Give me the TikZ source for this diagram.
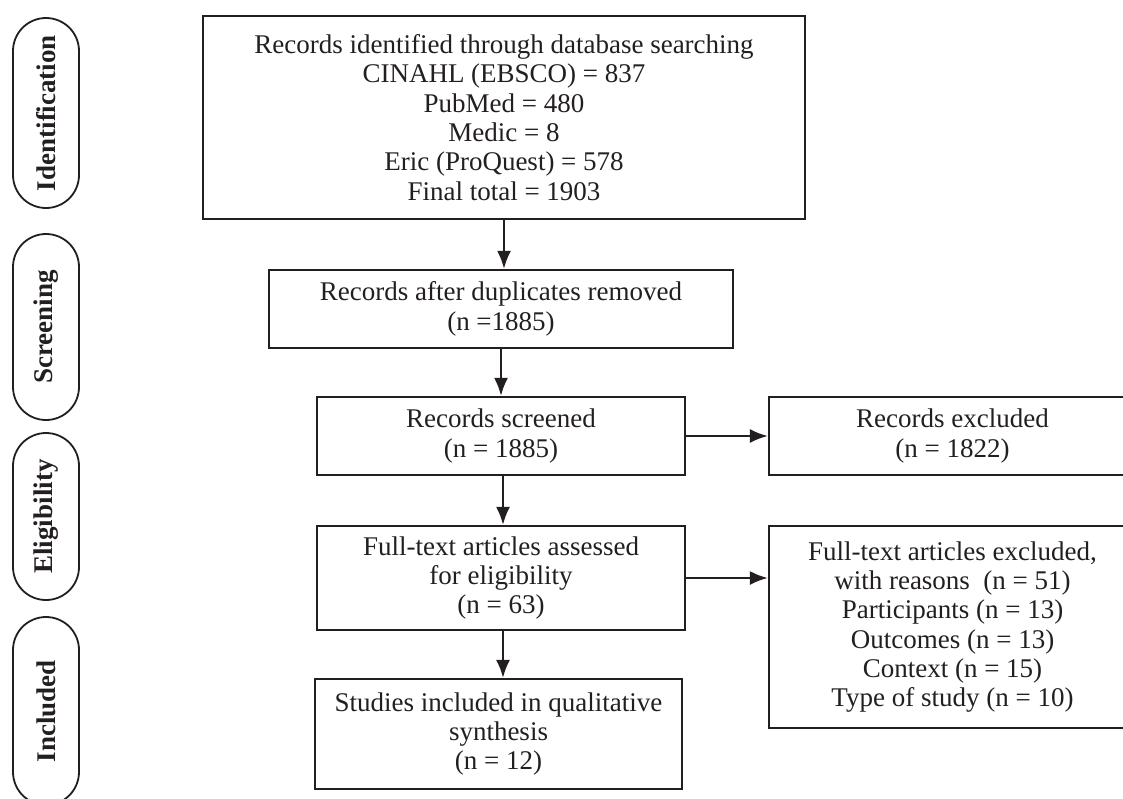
\documentclass[tikz,border=0pt]{standalone}
\usepackage{fontspec}
\setmainfont{Liberation Serif}
\usetikzlibrary{arrows.meta}
\definecolor{ink}{HTML}{231F20}

\begin{document}
\begin{tikzpicture}[x=1pt,y=-1pt,
    box/.style={draw=ink, text=ink, line width=2.3pt, align=center, inner sep=0pt,
      font=\fontsize{27}{29.3}\selectfont},
    phase/.style={draw=ink, text=ink, line width=1.8pt, rounded corners=33pt,
      rotate=90, minimum height=66pt, inner sep=0pt,
      font=\bfseries\fontsize{27}{29}\selectfont}]
  \useasboundingbox (0,0) rectangle (1123,798);
  % phases on the left
  \draw
    (46,113) node[phase, minimum width=190pt] (ident){Identification}
    (46,327) node[phase, minimum width=186pt] (screen){Screening}
    (46,516.5) node[phase, minimum width=167pt] (elig){Eligibility}
    (46,711) node[phase, minimum width=188pt] (incl){Included};
  % flow boxes
  \draw
    (504,117.5) node[box, minimum width=602pt, minimum height=203pt] (found)
      {Records identified through database searching\\
       CINAHL (EBSCO) = 837\\ PubMed = 480\\ Medic = 8\\
       Eric (ProQuest) = 578\\ Final total = 1903}
    (501,309) node[box, minimum width=464pt, minimum height=78pt] (dedup)
      {Records after duplicates removed\\ (n =1885)}
    (501,436) node[box, minimum width=368pt, minimum height=78pt] (screened)
      {Records screened\\ (n = 1885)}
    (952.5,436) node[box, minimum width=367pt, minimum height=78pt] (excl)
      {Records excluded\\ (n = 1822)}
    (501,578) node[box, minimum width=368pt, minimum height=104pt] (fulltext)
      {Full-text articles assessed\\ for eligibility\\ (n = 63)}
    (952.5,627) node[box, minimum width=367pt, minimum height=202pt] (ftexcl)
      {Full-text articles excluded,\\ with reasons~ (n = 51)\\
       Participants (n = 13)\\ Outcomes (n = 13)\\ Context (n = 15)\\
       Type of study (n = 10)}
    (498.5,734) node[box, minimum width=367pt, minimum height=110pt] (included)
      {Studies included in qualitative\\ synthesis\\ (n = 12)};
  \begin{scope}[draw=ink, line width=2.2pt, -{Latex[length=18pt,width=14pt]}]
    \draw (found.south) -- (found.south |- dedup.north);
    \draw (dedup.south) -- (screened.north);
    \draw (screened.east) -- (excl.west);
    \draw ([xshift=2pt]screened.south) -- ([xshift=2pt]screened.south |- fulltext.north);
    \draw (fulltext.east) -- (fulltext.east -| ftexcl.west);
    \draw ([xshift=2pt]fulltext.south) -- ([xshift=2pt]fulltext.south |- included.north);
  \end{scope}
\end{tikzpicture}
\end{document}
